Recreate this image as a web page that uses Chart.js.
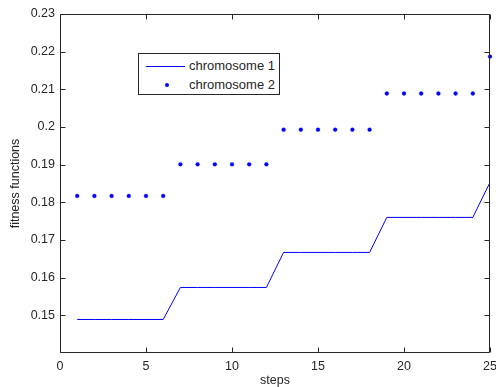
<!DOCTYPE html>
<html>
<head>
<meta charset="utf-8">
<script src="https://cdn.jsdelivr.net/npm/chart.js@4/dist/chart.umd.min.js"></script>
<style>
  html, body { margin: 0; padding: 0; background: #fff; }
  #wrap { position: relative; width: 496px; height: 387px; }
  #c { position: absolute; left: 0; top: 0; }
  #legend {
    position: absolute; left: 138px; top: 53px; width: 142px; height: 42px;
    border: 1px solid #262626; background: #fff; box-sizing: border-box;
    font-family: "Liberation Sans", Arial, sans-serif; font-size: 13px; color: #262626;
  }
  .row { position: absolute; left: 0; height: 16px; line-height: 16px; }
  .row span.t { position: absolute; left: 50px; white-space: nowrap; }
  .ln { position: absolute; left: 7px; top: 8px; width: 39px; height: 1px; background: #0000ff; }
  .dot { position: absolute; left: 26px; top: 6px; width: 4px; height: 4px; border-radius: 2px; background: #0000ff; }
</style>
</head>
<body>
<div id="wrap">
  <canvas id="c" width="496" height="387"></canvas>
  <div id="legend">
    <div class="row" style="top:4px"><div class="ln"></div><span class="t">chromosome 1</span></div>
    <div class="row" style="top:23px"><div class="dot"></div><span class="t">chromosome 2</span></div>
  </div>
</div>
<script>
const steps = [1, 2, 3, 4, 5, 6, 7, 8, 9, 10, 11, 12, 13, 14, 15, 16, 17, 18, 19, 20, 21, 22, 23, 24, 25];
const chromosome1 = [0.1489, 0.1489, 0.1489, 0.1489, 0.1489, 0.1489,
                     0.1574, 0.1574, 0.1574, 0.1574, 0.1574, 0.1574,
                     0.1667, 0.1667, 0.1667, 0.1667, 0.1667, 0.1667,
                     0.1760, 0.1760, 0.1760, 0.1760, 0.1760, 0.1760,
                     0.1853];
const chromosome2 = [0.1817, 0.1817, 0.1817, 0.1817, 0.1817, 0.1817,
                     0.1901, 0.1901, 0.1901, 0.1901, 0.1901, 0.1901,
                     0.1993, 0.1993, 0.1993, 0.1993, 0.1993, 0.1993,
                     0.2089, 0.2089, 0.2089, 0.2089, 0.2089, 0.2089,
                     0.2187];
const xTicks = [0, 5, 10, 15, 20, 25];
const yTicks = [0.15, 0.16, 0.17, 0.18, 0.19, 0.2, 0.21, 0.22, 0.23];
const seriesNames = ["chromosome 1", "chromosome 2"];
const xTitle = "steps";
const yTitle = "fitness functions";

const FONT = "'Liberation Sans', Arial, sans-serif";
const AXIS = "#262626";

const boxPlugin = {
  id: 'box',
  afterDatasetsDraw(chart) {
    const {ctx, chartArea: a, scales: {x, y}} = chart;
    ctx.save();
    ctx.strokeStyle = AXIS;
    ctx.lineWidth = 1;
    const L = Math.round(a.left) + 0.5, R = Math.round(a.right) - 0.5;
    const T = Math.round(a.top) + 0.5, B = Math.round(a.bottom) - 0.5;
    ctx.beginPath();
    ctx.rect(L, T, R - L, B - T);
    const tl = 5;
    xTicks.forEach(v => {
      const px = Math.round(x.getPixelForValue(v)) + 0.5;
      ctx.moveTo(px, B); ctx.lineTo(px, B - tl);
      ctx.moveTo(px, T); ctx.lineTo(px, T + tl);
    });
    yTicks.forEach(v => {
      const py = Math.round(y.getPixelForValue(v)) + 0.5;
      ctx.moveTo(L, py); ctx.lineTo(L + tl, py);
      ctx.moveTo(R, py); ctx.lineTo(R - tl, py);
    });
    ctx.stroke();
    ctx.restore();
  }
};

new Chart(document.getElementById('c'), {
  type: 'line',
  data: {
    datasets: [
      {
        label: seriesNames[0],
        data: steps.map((s, i) => ({x: s, y: chromosome1[i]})),
        borderColor: '#0000ff',
        borderWidth: 1,
        pointRadius: 0,
        fill: false,
        tension: 0
      },
      {
        label: seriesNames[1],
        data: steps.map((s, i) => ({x: s, y: chromosome2[i]})),
        showLine: false,
        pointStyle: 'circle',
        pointRadius: 1.9,
        pointBackgroundColor: '#0000ff',
        pointBorderColor: '#0000ff',
        pointBorderWidth: 0.4,
        clip: false
      }
    ]
  },
  options: {
    responsive: false,
    animation: false,
    events: [],
    layout: { padding: { left: 0, right: 6, top: 14, bottom: 0 } },
    plugins: { legend: { display: false }, tooltip: { enabled: false } },
    scales: {
      x: {
        type: 'linear', min: 0, max: 25,
        afterBuildTicks(s) { s.ticks = xTicks.map(v => ({value: v})); },
        afterFit(s) { s.height = 34; s.paddingLeft = 0; s.paddingRight = 0; },
        grid: { display: false, drawTicks: false },
        border: { display: false },
        ticks: { color: AXIS, font: { family: FONT, size: 12.5 }, padding: 6, maxRotation: 0,
                 callback: v => String(v) },
        title: { display: true, text: xTitle, color: AXIS, font: { family: FONT, size: 12.5, lineHeight: 1 }, padding: { top: 0, bottom: 0 } }
      },
      y: {
        type: 'linear', min: 0.14, max: 0.23,
        afterBuildTicks(s) { s.ticks = yTicks.map(v => ({value: v})); },
        afterFit(s) { s.width = 60; s.paddingTop = 0; s.paddingBottom = 0; },
        grid: { display: false, drawTicks: false },
        border: { display: false },
        ticks: { color: AXIS, font: { family: FONT, size: 12.5 }, padding: 5,
                 callback: v => String(Number(v.toFixed(2))) },
        title: { display: true, text: yTitle, color: AXIS, font: { family: FONT, size: 12.5, lineHeight: 1 }, padding: { top: 9, bottom: 0 } }
      }
    }
  },
  plugins: [boxPlugin]
});
</script>
</body>
</html>
